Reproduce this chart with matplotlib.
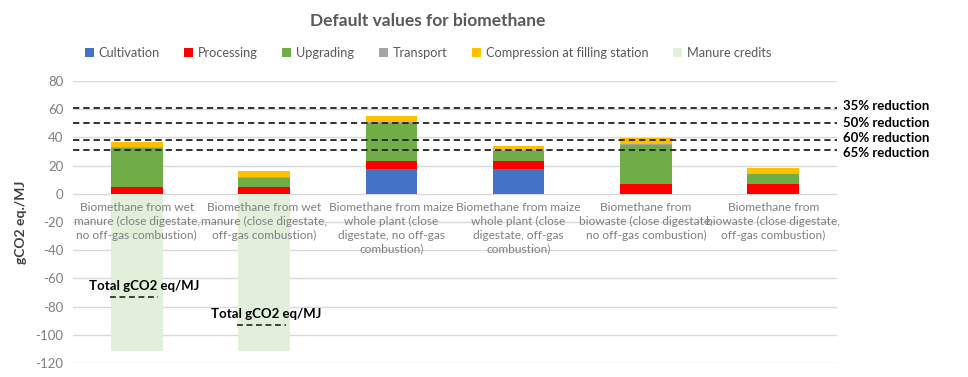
import matplotlib
matplotlib.use("Agg")
import matplotlib.pyplot as plt
import numpy as np

plt.rcParams['font.family'] = ['Lato', 'DejaVu Sans']
plt.rcParams['axes.unicode_minus'] = False

categories = [
    "Biomethane from wet\nmanure (close digestate,\nno off-gas combustion)",
    "Biomethane from wet\nmanure (close digestate,\noff-gas combustion)",
    "Biomethane from maize\nwhole plant (close\ndigestate, no off-gas\ncombustion)",
    "Biomethane from maize\nwhole plant (close\ndigestate, off-gas\ncombustion)",
    "Biomethane from\nbiowaste (close digestate,\nno off-gas combustion)",
    "Biomethane from\nbiowaste (close digestate,\noff-gas combustion)",
]
cultivation = [0.0, 0.0, 17.4, 17.4, 0.0, 0.0]
processing = [4.6, 4.6, 6.1, 6.1, 7.2, 7.2]
upgrading = [27.6, 6.4, 27.0, 6.9, 27.4, 6.6]
transport = [0.8, 0.8, 0.5, 0.5, 0.5, 0.5]
compression = [4.0, 4.4, 4.2, 3.2, 4.2, 3.8]
manure_credits = [-111.5, -111.5, 0.0, 0.0, 0.0, 0.0]
totals_shown = [-73.0, -93.0]
reduction_labels = ["35% reduction", "50% reduction", "60% reduction", "65% reduction"]
reduction_values = [60.6, 50.0, 38.2, 31.3]
reduction_label_pos = [62.5, 50.0, 39.8, 29.3]

series = [
    ("Cultivation", cultivation, "#4472C4"),
    ("Processing", processing, "#FF0000"),
    ("Upgrading", upgrading, "#70AD47"),
    ("Transport", transport, "#A5A5A5"),
    ("Compression at filling station", compression, "#FFC000"),
]

fig = plt.figure(figsize=(9.68, 3.77), dpi=100)
ax = fig.add_axes([0.0755, 0.037, 0.789, 0.748])

x = np.arange(len(categories))
w = 0.405
bottom = np.zeros(len(categories))
for name, vals, col in series:
    ax.bar(x, vals, w, bottom=bottom, color=col, label=name, zorder=2)
    bottom += np.array(vals)
ax.bar(x, manure_credits, w, color="#E2EFDA", label="Manure credits", zorder=2)

ax.set_xlim(-0.5, len(categories) - 0.5)
ax.set_ylim(-120, 80)
ax.set_yticks(np.arange(-120, 81, 20))
ax.grid(axis='y', color='#D9D9D9', lw=1, zorder=0)
ax.set_axisbelow(True)
ax.xaxis.set_zorder(3)
for s in ['top', 'right', 'left']:
    ax.spines[s].set_visible(False)
ax.spines['bottom'].set_position(('data', 0))
ax.spines['bottom'].set_visible(False)
ax.set_xticks(x)
ax.set_xticklabels(categories, fontsize=8.6, color='#7F7F7F', linespacing=1.3, va='top')
ax.tick_params(axis='x', length=0, pad=6)
ax.tick_params(axis='y', length=0, labelsize=9.5, labelcolor='#7F7F7F', pad=7)
ax.set_ylabel("gCO2 eq./MJ", fontsize=10, fontweight='bold', color='#404040', labelpad=6)

for v in reduction_values:
    ax.axhline(v, color='#222222', lw=1.3, ls=(0, (3.5, 2.2)), zorder=4)
for lab, yp in zip(reduction_labels, reduction_label_pos):
    ax.text(1.008, yp, lab, transform=ax.get_yaxis_transform(), fontsize=9.5,
            fontweight='bold', color='black', va='center', ha='left', clip_on=False)

for i, t in enumerate(totals_shown):
    ax.plot([x[i] - 0.21, x[i] + 0.17], [t, t], color='#222222', lw=1.2,
            ls=(0, (3.5, 2.2)), zorder=4)
    ax.text(x[i] + (0.06 if i == 0 else 0.02), t + 7.5, "Total gCO2 eq/MJ",
            fontsize=9.5, fontweight='bold', color='black', ha='center', va='center', zorder=5)

fig.text(0.442, 0.945, "Default values for biomethane", fontsize=12.5, fontweight='bold',
         color='#595959', ha='center', va='center')
h, l = ax.get_legend_handles_labels()
fig.legend(h, l, loc='center', bbox_to_anchor=(0.442, 0.86), ncol=6, frameon=False,
           fontsize=9.2, handlelength=0.7, handleheight=0.7, handletextpad=0.4,
           columnspacing=1.9, labelcolor='#595959')

fig.savefig("out.png", dpi=100)
